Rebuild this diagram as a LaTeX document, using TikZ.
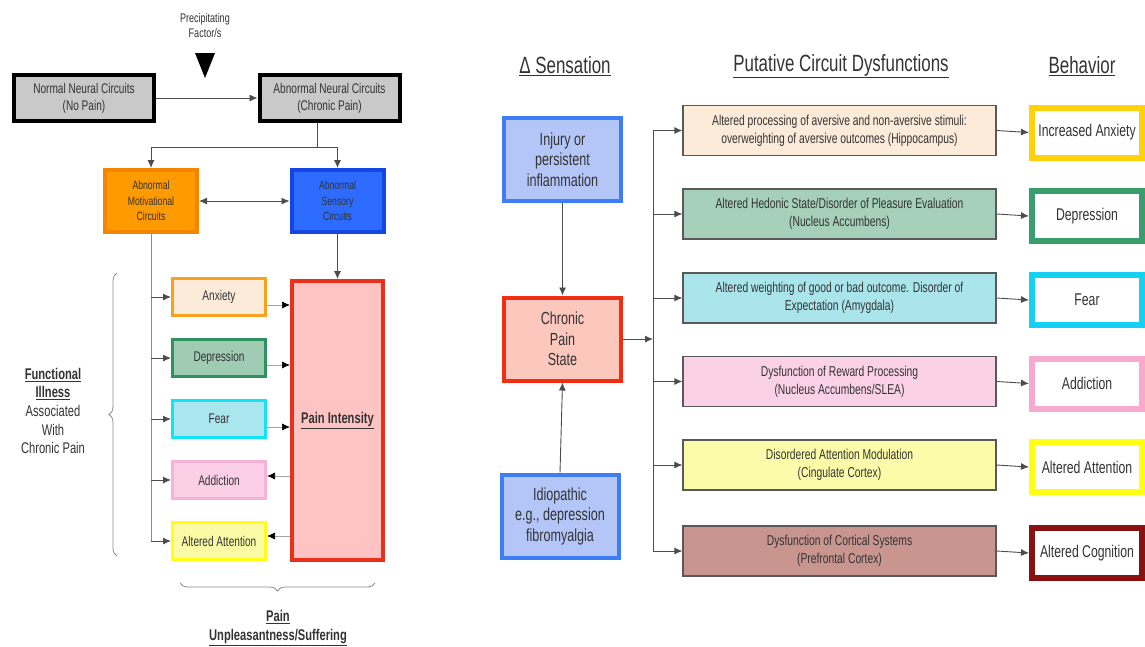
\documentclass[tikz,border=0pt]{standalone}
\usepackage{fontspec}
\setmainfont{Liberation Sans}[FakeStretch=0.72]
\usepackage{tikz}
\usetikzlibrary{arrows.meta, decorations.pathreplacing}

\newcommand{\fsz}[2]{\fontsize{#1}{#2}\selectfont}

\definecolor{grayfill}{HTML}{C9C9C9}
\definecolor{orgfill}{HTML}{FF9A00}
\definecolor{orgline}{HTML}{F58400}
\definecolor{bluefill}{HTML}{2E6BFF}
\definecolor{blueline}{HTML}{1446E6}
\definecolor{anxfill}{HTML}{FDEBDA}
\definecolor{anxline}{HTML}{F6A21E}
\definecolor{depfill}{HTML}{9FCCB2}
\definecolor{depline}{HTML}{2F9060}
\definecolor{fearfill}{HTML}{A9E6EE}
\definecolor{fearline}{HTML}{12E4F4}
\definecolor{addfill}{HTML}{FBD0E7}
\definecolor{addline}{HTML}{F6B3D7}
\definecolor{attfill}{HTML}{FBFBA6}
\definecolor{attline}{HTML}{FFFF1A}
\definecolor{painfill}{HTML}{FFC3C3}
\definecolor{painline}{HTML}{E8301A}
\definecolor{causefill}{HTML}{B4C6F8}
\definecolor{causeline}{HTML}{3D7EF6}
\definecolor{chrfill}{HTML}{FCC7BD}
\definecolor{chrline}{HTML}{F22E12}
\definecolor{mida}{HTML}{FDEBD9}
\definecolor{midb}{HTML}{A6D0B9}
\definecolor{midc}{HTML}{ABE5EC}
\definecolor{midd}{HTML}{FBD1E7}
\definecolor{mide}{HTML}{FBFBA9}
\definecolor{midf}{HTML}{C8958F}
\definecolor{beha}{HTML}{FFD20A}
\definecolor{behb}{HTML}{3A9D6C}
\definecolor{behc}{HTML}{14D0F2}
\definecolor{behd}{HTML}{F7A9CF}
\definecolor{behe}{HTML}{FFFF14}
\definecolor{behf}{HTML}{8A1111}
\definecolor{ink}{HTML}{333333}

\begin{document}
\begin{tikzpicture}[x=1pt, y=-1pt,
    box/.style={draw, rectangle, align=center, inner sep=1pt, text=ink},
    gbox/.style={box, fill=grayfill, draw=black, line width=4pt, minimum width=140, minimum height=46, font=\fsz{14}{16.8}},
    cbox/.style={box, line width=4pt, minimum width=92, minimum height=62, font=\fsz{12}{15.3}},
    sbox/.style={box, line width=3pt, minimum width=93, minimum height=37, font=\fsz{14}{16.8}},
    rbox/.style={box, line width=4pt, minimum width=117, minimum height=83, font=\fsz{17.5}{20.5}},
    mbox/.style={box, draw=black!65, line width=1.2pt, minimum width=313, minimum height=50, font=\fsz{14.3}{18}},
    bbox/.style={box, fill=white, line width=6pt, minimum width=110, minimum height=50, font=\fsz{17}{20}},
    head/.style={text=ink, font=\fsz{23.5}{28}},
    line/.style={draw=black!70, line width=0.9pt},
    gline/.style={draw=black!45, line width=0.9pt},
    arr/.style={line, -{Latex[length=8pt, width=7pt]}},
    darr/.style={line, {Latex[length=8pt, width=7pt]}-{Latex[length=8pt, width=7pt]}},
    garr/.style={draw=black!35, line width=0.7pt, -{Latex[length=8pt, width=7pt, color=black]}},
    brace/.style={draw=black!45, line width=0.8pt, decorate, decoration={brace, amplitude=8pt}}]

    \useasboundingbox (0,0) rectangle (1145,646);

    % left: circuits
    \node[text=ink, align=center, font=\fsz{12.5}{15}] (precip) at (205,26) {Precipitating\\Factor/s};
    \fill[black] (195,53) -- (215,53) -- (205,78) -- cycle; % trigger
    \node[gbox] (normal) at (84,98) {Normal Neural Circuits\\(No Pain)};
    \node[gbox] (abnormal) at (329.5,98) {Abnormal Neural Circuits\\(Chronic Pain)};
    \node[cbox, fill=orgfill, draw=orgline] (motiv) at (151,201) {Abnormal\\Motivational\\Circuits};
    \node[cbox, fill=bluefill, draw=blueline] (sens) at (337.5,201) {Abnormal\\Sensory\\Circuits};

    \node[box, fill=painfill, draw=painline, line width=4pt, minimum width=91, minimum height=279,
          font=\bfseries\fsz{15.5}{18}] (intens) at (337.5,420.5) {\underline{Pain Intensity}};
    \node[sbox, fill=anxfill, draw=anxline] (anx) at (219,297) {Anxiety};
    \node[sbox, fill=depfill, draw=depline] (dep) at (219,358) {Depression};
    \node[sbox, fill=fearfill, draw=fearline] (fear) at (219,419) {Fear};
    \node[sbox, fill=addfill, draw=addline] (addic) at (219,480) {Addiction};
    \node[sbox, fill=attfill, draw=attline] (attn) at (219,541) {Altered Attention};

    \coordinate (split) at (317,147);
    \draw[arr] (normal.east) -- (abnormal.west);
    \draw[line] (abnormal.south -| split) -- (split);
    \draw[arr] (split) -| (motiv.north);
    \draw[arr] (split) -| (sens.north);
    \draw[darr] (motiv.east) -- (sens.west);
    \draw[arr] (sens.south) -- (intens.north);

    \draw[gline] (motiv.south) -- (motiv.south |- attn.west); % trunk
    \draw[arr] (motiv.south |- anx.west) -- (anx.west);
    \draw[arr] (motiv.south |- dep.west) -- (dep.west);
    \draw[arr] (motiv.south |- fear.west) -- (fear.west);
    \draw[arr] (motiv.south |- addic.west) -- (addic.west);
    \draw[arr] (motiv.south |- attn.west) -- (attn.west);

    \draw[garr] ([yshift=-8pt]anx.east) -- ([yshift=-8pt]anx.east -| intens.west);
    \draw[garr] ([yshift=-7pt]dep.east) -- ([yshift=-7pt]dep.east -| intens.west);
    \draw[garr] ([yshift=-8pt]fear.east) -- ([yshift=-8pt]fear.east -| intens.west);
    \draw[garr] ([yshift=4pt]addic.east -| intens.west) -- ([yshift=4pt]addic.east);
    \draw[garr] ([yshift=5pt]attn.east -| intens.west) -- ([yshift=5pt]attn.east);

    \draw[brace] (117,556) -- (117,273); % illness
    \draw[brace] (375,583) -- (180,583); % suffering
    \node[text=ink, align=center, font=\fsz{15.5}{18.6}] (illness) at (53,411)
        {\textbf{\underline{Functional}}\\\textbf{\underline{Illness}}\\Associated\\With\\Chronic Pain};
    \node[text=ink, align=center, font=\bfseries\fsz{15.5}{18.6}] (suffer) at (278,628)
        {\underline{Pain}\\\underline{Unpleasantness/Suffering}};

    % right: sensation -> circuits -> behavior
    \node[head] (hsens) at (565,66) {\underline{Δ Sensation}};
    \node[head] (hcirc) at (841,66) {\underline{Putative Circuit Dysfunctions}};
    \node[head] (hbeh) at (1082,66) {\underline{Behavior}};

    \node[rbox, fill=causefill, draw=causeline] (injury) at (562.5,159.5) {Injury or\\persistent\\inflammation};
    \node[rbox, fill=chrfill, draw=chrline] (chronic) at (562.5,339) {Chronic\\Pain\\State};
    \node[rbox, fill=causefill, draw=causeline] (idio) at (560,516) {Idiopathic\\e.g., depression\\fibromyalgia};
    \draw[arr] (injury.south) -- (chronic.north);
    \draw[arr] (idio.north) -- (chronic.south);

    \node[mbox, fill=mida] (alta) at (839.5,130.5) {Altered processing of aversive and non-aversive stimuli:\\overweighting of aversive outcomes (Hippocampus)};
    \node[mbox, fill=midb] (altb) at (839.5,214) {Altered Hedonic State/Disorder of Pleasure Evaluation\\(Nucleus Accumbens)};
    \node[mbox, fill=midc] (altc) at (839.5,298) {Altered weighting of good or bad outcome. Disorder of\\Expectation (Amygdala)};
    \node[mbox, fill=midd] (altd) at (839.5,381.5) {Dysfunction of Reward Processing\\(Nucleus Accumbens/SLEA)};
    \node[mbox, fill=mide] (alte) at (839.5,465) {Disordered Attention Modulation\\(Cingulate Cortex)};
    \node[mbox, fill=midf] (altf) at (839.5,551) {Dysfunction of Cortical Systems\\(Prefrontal Cortex)};

    \coordinate (bar) at (653,0);
    \draw[arr] (chronic.east) -- (chronic.east -| bar);
    \draw[line] (alta.west -| bar) -- (altf.west -| bar); % bar
    \draw[arr] (alta.west -| bar) -- (alta.west);
    \draw[arr] (altb.west -| bar) -- (altb.west);
    \draw[arr] (altc.west -| bar) -- (altc.west);
    \draw[arr] (altd.west -| bar) -- (altd.west);
    \draw[arr] (alte.west -| bar) -- (alte.west);
    \draw[arr] (altf.west -| bar) -- (altf.west);

    \node[bbox, draw=beha] (beha) at (1087,132.5) {Increased Anxiety};
    \node[bbox, draw=behb] (behb) at (1087,216) {Depression};
    \node[bbox, draw=behc] (behc) at (1087,300) {Fear};
    \node[bbox, draw=behd] (behd) at (1087,383.5) {Addiction};
    \node[bbox, draw=behe] (behe) at (1087,467) {Altered Attention};
    \node[bbox, draw=behf] (behf) at (1087,553) {Altered Cognition};
    \draw[arr] (alta.east) -- (beha.west);
    \draw[arr] (altb.east) -- (behb.west);
    \draw[arr] (altc.east) -- (behc.west);
    \draw[arr] (altd.east) -- (behd.west);
    \draw[arr] (alte.east) -- (behe.west);
    \draw[arr] (altf.east) -- (behf.west);
\end{tikzpicture}
\end{document}
